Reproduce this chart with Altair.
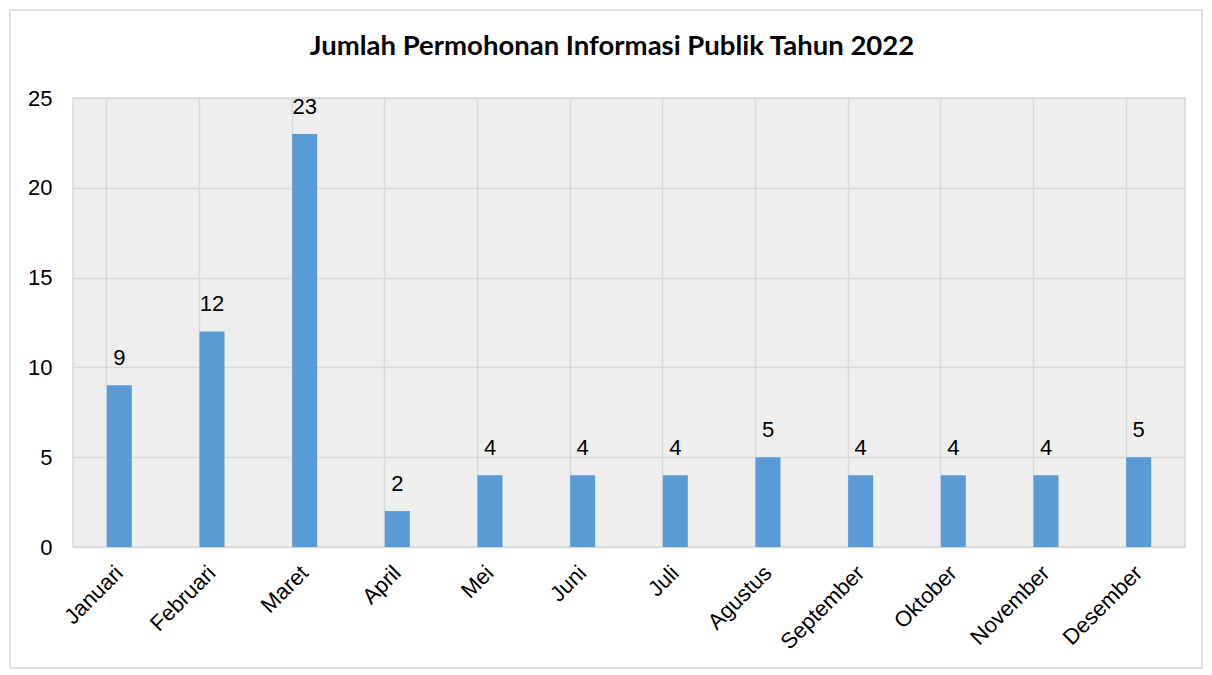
import altair as alt
import pandas as pd

months = ["Januari", "Februari", "Maret", "April", "Mei", "Juni", "Juli",
          "Agustus", "September", "Oktober", "November", "Desember"]
values = [9, 12, 23, 2, 4, 4, 4, 5, 4, 4, 4, 5]
y_ticks = [0, 5, 10, 15, 20, 25]

df = pd.DataFrame({"Bulan": months, "Jumlah": values})

y_scale = alt.Scale(domain=[0, 25], nice=False, zero=True)

x_enc = alt.X("Bulan:N", sort=months, title=None,
              scale=alt.Scale(paddingInner=0.73, paddingOuter=0.365),
              axis=alt.Axis(labelAngle=-45, labelAlign="right", labelBaseline="middle",
                            labelFontSize=22, labelFont="Liberation Sans", labelColor="#000000",
                            labelPadding=22, ticks=False, domain=False, labelOverlap=False,
                            grid=True, gridColor="#d9d9d9", gridWidth=1.5, bandPosition=0))
y_enc = alt.Y("Jumlah:Q", title=None, scale=y_scale,
              axis=alt.Axis(values=y_ticks, labelFontSize=22, labelFont="Liberation Sans",
                            labelColor="#000000", labelPadding=21, ticks=False, domain=False,
                            grid=True, gridColor="#d9d9d9", gridWidth=1.5))

bars = alt.Chart(df).mark_bar(color="#5b9bd5").encode(x=x_enc, y=y_enc)
labels = alt.Chart(df).mark_text(dy=-27, fontSize=22, font="Liberation Sans", color="#000000").encode(
    x=alt.X("Bulan:N", sort=months), y=alt.Y("Jumlah:Q", scale=y_scale), text="Jumlah:Q")

border = alt.Chart(pd.DataFrame({"a": [0]})).mark_rect(
    fill=None, stroke="#d9d9d9", strokeWidth=1.5).encode(
    x=alt.value(-63), x2=alt.value(1129), y=alt.value(-88), y2=alt.value(570))

chart = alt.layer(bars, labels, border).properties(
    width=1112, height=449,
    padding={"left": 73, "top": 98, "right": 27, "bottom": 128},
    autosize=alt.AutoSizeParams(type="none"),
    background="#ffffff",
    title=alt.TitleParams("Jumlah Permohonan Informasi Publik Tahun 2022",
                          font="Lato", fontSize=27.5, fontWeight="bold", color="#000000",
                          anchor="middle", dx=-17, offset=-51),
).configure_view(fill="#eeeeee", stroke="#d9d9d9", strokeWidth=1.5)

chart.save("out.html", embed_options={"renderer": "svg", "actions": False})
